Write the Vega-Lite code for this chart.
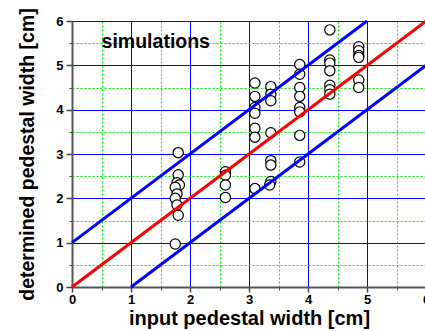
{
  "$schema": "https://vega.github.io/schema/vega-lite/v6.json",
  "autosize": {"type": "none"},
  "padding": {"left": 72, "top": 21, "right": 0, "bottom": 44},
  "width": 354,
  "height": 266,
  "background": "white",
  "config": {
    "view": {"stroke": "black", "strokeWidth": 1},
    "font": "Liberation Sans",
    "axis": {"labelFont": "Liberation Sans", "titleFont": "Liberation Sans"}
  },
  "datasets": {
    "points": [
      {"x": 1.8, "y": 3.03}, {"x": 1.8, "y": 2.53}, {"x": 1.78, "y": 2.35}, {"x": 1.82, "y": 2.3},
      {"x": 1.75, "y": 2.25}, {"x": 1.78, "y": 2.1}, {"x": 1.75, "y": 2.0}, {"x": 1.78, "y": 1.85},
      {"x": 1.8, "y": 1.62}, {"x": 1.75, "y": 0.97},
      {"x": 2.6, "y": 2.6}, {"x": 2.6, "y": 2.52}, {"x": 2.6, "y": 2.3}, {"x": 2.6, "y": 2.02},
      {"x": 3.1, "y": 4.6}, {"x": 3.1, "y": 4.3}, {"x": 3.1, "y": 4.05}, {"x": 3.1, "y": 3.92},
      {"x": 3.1, "y": 3.58}, {"x": 3.1, "y": 3.38}, {"x": 3.1, "y": 2.22},
      {"x": 3.37, "y": 4.52}, {"x": 3.37, "y": 4.35}, {"x": 3.37, "y": 4.2}, {"x": 3.37, "y": 3.48},
      {"x": 3.37, "y": 2.85}, {"x": 3.37, "y": 2.75}, {"x": 3.37, "y": 2.38}, {"x": 3.35, "y": 2.3},
      {"x": 3.86, "y": 5.02}, {"x": 3.86, "y": 4.8}, {"x": 3.86, "y": 4.5}, {"x": 3.86, "y": 4.3},
      {"x": 3.86, "y": 4.05}, {"x": 3.86, "y": 3.95}, {"x": 3.86, "y": 3.42}, {"x": 3.86, "y": 2.82},
      {"x": 4.37, "y": 5.8}, {"x": 4.37, "y": 5.12}, {"x": 4.37, "y": 5.05}, {"x": 4.37, "y": 4.88},
      {"x": 4.37, "y": 4.55}, {"x": 4.37, "y": 4.45}, {"x": 4.37, "y": 4.35},
      {"x": 4.86, "y": 5.42}, {"x": 4.86, "y": 5.33}, {"x": 4.86, "y": 5.22}, {"x": 4.86, "y": 5.18},
      {"x": 4.86, "y": 4.67}, {"x": 4.86, "y": 4.5}
    ],
    "lines": [
      {"series": "ideal", "x": 0, "y": 0}, {"series": "ideal", "x": 6, "y": 6},
      {"series": "upper", "x": 0, "y": 1}, {"series": "upper", "x": 5, "y": 6},
      {"series": "lower", "x": 1, "y": 0}, {"series": "lower", "x": 6, "y": 5}
    ],
    "label": [{"x": 1.42, "y": 5.53, "text": "simulations"}]
  },
  "layer": [
    {
      "data": {"name": "label"},
      "mark": {"type": "text", "fontWeight": "bold", "fontSize": 19.5, "font": "Liberation Sans", "color": "black"},
      "encoding": {
        "x": {"field": "x", "type": "quantitative", "scale": {"domain": [0, 6], "nice": false},
          "axis": {"orient": "bottom", "values": [0.5, 1.5, 2.5, 3.5, 4.5, 5.5], "labels": false, "domain": false, "title": null,
            "tickSize": 3, "tickColor": "#444", "grid": true, "gridColor": "#00ee00", "gridDash": [2, 2], "gridWidth": 1}},
        "y": {"field": "y", "type": "quantitative", "scale": {"domain": [0, 6], "nice": false},
          "axis": {"orient": "left", "values": [0.5, 1.5, 2.5, 3.5, 4.5, 5.5], "labels": false, "domain": false, "title": null,
            "tickSize": 3, "tickColor": "#444", "grid": true, "gridColor": "#00ee00", "gridDash": [2, 2], "gridWidth": 1}},
        "text": {"field": "text"}
      }
    },
    {
      "data": {"name": "points"},
      "mark": {"type": "point", "shape": "circle", "filled": false, "fill": "white", "fillOpacity": 1, "stroke": "black", "strokeWidth": 1.2, "size": 105, "opacity": 1},
      "encoding": {
        "x": {"field": "x", "type": "quantitative", "scale": {"domain": [0, 6], "nice": false},
          "axis": {"orient": "bottom", "values": [0, 1, 2, 3, 4, 5, 6], "format": "d", "title": "input pedestal width [cm]",
            "labelFontSize": 13, "labelFontWeight": "bold", "labelColor": "black", "labelPadding": 1,
            "titleFontSize": 20, "titleFontWeight": "bold", "titleColor": "black", "titlePadding": 2,
            "tickSize": 5, "tickColor": "#444", "tickWidth": 1.5, "domainColor": "#555", "domainWidth": 2,
            "grid": true, "gridColor": "#0000ff", "gridWidth": 1, "gridOpacity": 1, "labelFlush": false}},
        "y": {"field": "y", "type": "quantitative", "scale": {"domain": [0, 6], "nice": false},
          "axis": {"orient": "left", "values": [0, 1, 2, 3, 4, 5, 6], "format": "d", "title": "determined pedestal width [cm]",
            "labelFontSize": 13, "labelFontWeight": "bold", "labelColor": "black", "labelPadding": 3,
            "titleFontSize": 19.5, "titleFontWeight": "bold", "titleColor": "black", "titlePadding": 18,
            "tickSize": 6, "tickColor": "#444", "tickWidth": 1.5, "domainColor": "#555", "domainWidth": 2,
            "grid": true, "gridColor": "#0000ff", "gridWidth": 1, "gridOpacity": 1, "labelFlush": false}}
      }
    },
    {
      "data": {"name": "lines"},
      "mark": {"type": "line", "strokeWidth": 3},
      "encoding": {
        "x": {"field": "x", "type": "quantitative", "scale": {"domain": [0, 6], "nice": false}, "axis": null},
        "y": {"field": "y", "type": "quantitative", "scale": {"domain": [0, 6], "nice": false}, "axis": null},
        "detail": {"field": "series"},
        "color": {"field": "series", "type": "nominal", "scale": {"domain": ["ideal", "upper", "lower"], "range": ["#ff0000", "#0000ff", "#0000ff"]}, "legend": null}
      }
    }
  ],
  "resolve": {"axis": {"x": "independent", "y": "independent"}}
}
